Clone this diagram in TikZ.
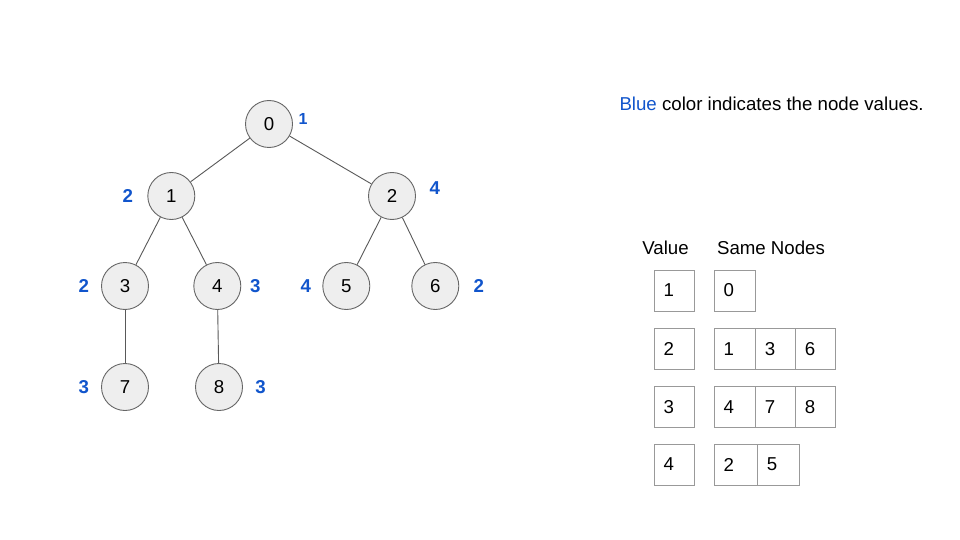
\documentclass[tikz,border=0pt]{standalone}
\usepackage{fontspec}
\setmainfont{Liberation Sans}
\definecolor{gblue}{HTML}{1155CC}
\definecolor{edgegray}{HTML}{595959}
\definecolor{nodefill}{HTML}{EEEEEE}
\definecolor{nodeline}{HTML}{666666}
\definecolor{boxline}{HTML}{999999}
\begin{document}
\begin{tikzpicture}[x=1pt,y=-1pt,
  treenode/.style={circle,draw=nodeline,fill=nodefill,line width=0.9pt,minimum size=47pt,inner sep=0pt,font=\fontsize{18.67}{22}\selectfont},
  vlabel/.style={text=gblue,font=\fontsize{18.67}{22}\selectfont\bfseries,inner sep=0pt},
  vlabelsmall/.style={text=gblue,font=\fontsize{16}{19}\selectfont\bfseries,inner sep=0pt},
  edge/.style={draw=edgegray,line width=0.9pt},
  cell/.style={draw=boxline,line width=0.9pt,minimum height=41pt,inner sep=0pt,outer sep=0pt},
  celltxt/.style={anchor=west,inner sep=0pt,font=\fontsize{18.67}{22}\selectfont},
  plain/.style={inner sep=0pt,font=\fontsize{18.67}{22}\selectfont}]
\useasboundingbox (0,0) rectangle (960,540);
\fill[white] (0,0) rectangle (960,540);
% tree
\node[treenode] (n0) at (269,124) {0};
\node[treenode] (n1) at (171.3,196) {1};
\node[treenode] (n2) at (392,196) {2};
\node[treenode] (n3) at (125,286) {3};
\node[treenode] (n4) at (217.3,286) {4};
\node[treenode] (n5) at (346.3,286) {5};
\node[treenode] (n6) at (435.3,286) {6};
\node[treenode] (n7) at (125,387) {7};
\node[treenode] (n8) at (219,387) {8};
\draw[edge] (n0) -- (n1);
\draw[edge] (n0) -- (n2);
\draw[edge] (n1) -- (n3);
\draw[edge] (n1) -- (n4);
\draw[edge] (n2) -- (n5);
\draw[edge] (n2) -- (n6);
\draw[edge] (n3) -- (n7);
\draw[edge] (n4) -- (n8);
% value labels
\node[vlabelsmall] (v0) at (303,118.5) {1};
\node[vlabel] (v1) at (127.7,196.3) {2};
\node[vlabel] (v2) at (434.7,188.3) {4};
\node[vlabel] (v3) at (83.8,286) {2};
\node[vlabel] (v4) at (255.2,286) {3};
\node[vlabel] (v5) at (305.8,286) {4};
\node[vlabel] (v6) at (478.8,286) {2};
\node[vlabel] (v7) at (83.8,387) {3};
\node[vlabel] (v8) at (260.5,387) {3};
% legend text
\node[plain,anchor=base west] (legend) at (619.3,110.7) {\textcolor{gblue}{Blue} color indicates the node values.};
\node[plain] (hval) at (665.5,248) {Value};
\node[plain] (hsame) at (771,248) {Same Nodes};
% value column
\node[cell,minimum width=40pt,anchor=north west] (val1) at (654.3,270) {};
\node[cell,minimum width=40pt,anchor=north west] (val2) at (654.3,328.3) {};
\node[cell,minimum width=40pt,anchor=north west] (val3) at (654.3,386.7) {};
\node[cell,minimum width=40pt,anchor=north west] (val4) at (654.3,444) {};
\node[celltxt] at ([xshift=9pt]val1.west) {1};
\node[celltxt] at ([xshift=9pt]val2.west) {2};
\node[celltxt] at ([xshift=9pt]val3.west) {3};
\node[celltxt] at ([xshift=9pt]val4.west) {4};
% same nodes
\node[cell,minimum width=41pt,anchor=north west] (s10) at (714.3,270) {};
\node[celltxt] at ([xshift=9pt]s10.west) {0};
\node[cell,minimum width=41.4pt,anchor=north west] (s20) at (714.3,328.3) {};
\node[cell,minimum width=40pt,anchor=north west] (s21) at (s20.north east) {};
\node[cell,minimum width=39.6pt,anchor=north west] (s22) at (s21.north east) {};
\node[celltxt] at ([xshift=9pt]s20.west) {1};
\node[celltxt] at ([xshift=9pt]s21.west) {3};
\node[celltxt] at ([xshift=9pt]s22.west) {6};
\node[cell,minimum width=41.4pt,anchor=north west] (s30) at (714.3,386.7) {};
\node[cell,minimum width=40pt,anchor=north west] (s31) at (s30.north east) {};
\node[cell,minimum width=39.6pt,anchor=north west] (s32) at (s31.north east) {};
\node[celltxt] at ([xshift=9pt]s30.west) {4};
\node[celltxt] at ([xshift=9pt]s31.west) {7};
\node[celltxt] at ([xshift=9pt]s32.west) {8};
\node[cell,minimum width=43.4pt,anchor=north west] (s40) at (714.3,444) {};
\node[cell,minimum width=42pt,anchor=north west] (s41) at (s40.north east) {};
\node[celltxt] at ([xshift=9pt]s40.west) {2};
\node[celltxt] at ([xshift=9pt]s41.west) {5};
\end{tikzpicture}
\end{document}
